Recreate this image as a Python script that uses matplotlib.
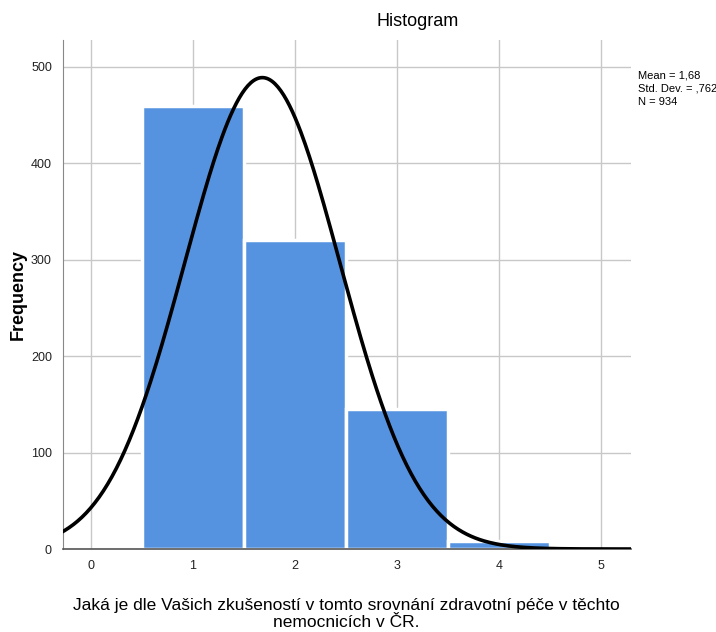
import numpy as np
import matplotlib
matplotlib.use("Agg")
import matplotlib.pyplot as plt

plt.rcParams['font.family'] = ['Liberation Sans', 'DejaVu Sans']

# Data
categories = [1, 2, 3, 4]
frequencies = [460, 321, 145, 8]
mean_val = 1.68
std_val = 0.762
n_total = 934

fig = plt.figure(figsize=(7.16, 6.32), dpi=100)
ax = fig.add_axes([0.088, 0.1313, 0.793, 0.8054])

ax.bar(categories, frequencies, width=1.0, color='#5593e0',
       edgecolor='white', linewidth=2.5, zorder=2)

# normal curve scaled to counts (bin width 1)
xs = np.linspace(-0.3, 5.3, 400)
ys = n_total / (std_val * np.sqrt(2 * np.pi)) * np.exp(-0.5 * ((xs - mean_val) / std_val) ** 2)
ax.plot(xs, ys, color='black', linewidth=2.6, zorder=3)

ax.set_xlim(-0.275, 5.294)
ax.set_ylim(0, 528)
ax.set_xticks([0, 1, 2, 3, 4, 5])
ax.set_yticks([0, 100, 200, 300, 400, 500])
ax.grid(True, color='#c8c8c8', linewidth=1, zorder=0)
ax.set_axisbelow(True)
ax.tick_params(length=0, labelsize=9, colors='#222222', pad=8)

for s in ['top', 'right']:
    ax.spines[s].set_visible(False)
ax.spines['left'].set_color('#888888')
ax.spines['bottom'].set_color('#555555')
ax.spines['bottom'].set_linewidth(1.2)

fig.text(18 / 716, 1 - 295 / 632, 'Frequency', rotation=90, ha='center', va='center',
         fontsize=13, fontweight='bold')
fig.text(346 / 716, 1 - 614 / 632,
         'Jaká je dle Vašich zkušeností v tomto srovnání zdravotní péče v těchto\nnemocnicích v ČR.',
         ha='center', va='center', fontsize=12.5, linespacing=1.1)

fig.text(418 / 716, 1 - 22 / 632, 'Histogram', ha='center', va='center', fontsize=13)
fig.text(638 / 716, 1 - 70 / 632,
         f'Mean = 1,68\nStd. Dev. = ,762\nN = {n_total}',
         ha='left', va='top', fontsize=8, linespacing=1.45)

fig.savefig('out.png', dpi=100)
